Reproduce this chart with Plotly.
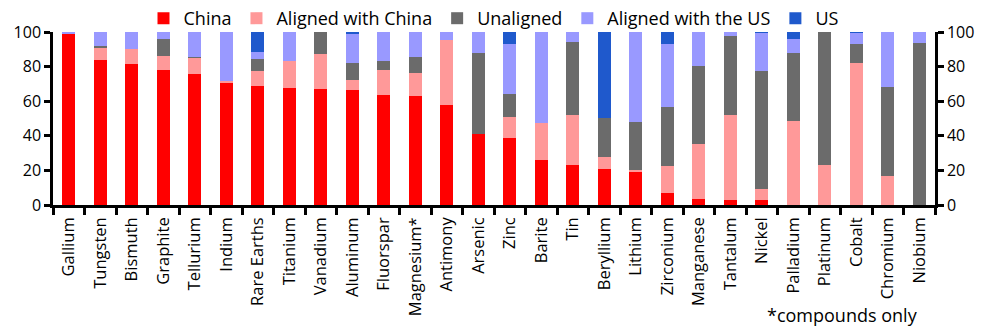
import plotly.graph_objects as go

minerals = ["Gallium", "Tungsten", "Bismuth", "Graphite", "Tellurium", "Indium",
            "Rare Earths", "Titanium", "Vanadium", "Aluminum", "Fluorspar",
            "Magnesium*", "Antimony", "Arsenic", "Zinc", "Barite", "Tin",
            "Beryllium", "Lithium", "Zirconium", "Manganese", "Tantalum",
            "Nickel", "Palladium", "Platinum", "Cobalt", "Chromium", "Niobium"]

china = [99, 84, 81.5, 78, 76, 70.5, 68.8, 67.6, 67, 66.5, 63.6, 63, 57.8, 41.2,
         39, 26, 23, 21, 19.3, 7, 3.5, 3, 3, 0, 0, 0, 0, 0]
aligned_china = [0, 7, 8.7, 8, 9, 1.2, 8.7, 15.6, 20.3, 5.8, 14.4, 13.3, 37.6, 0,
                 11.6, 21.4, 29, 7, 0.9, 15.5, 31.8, 49, 6.3, 48.6, 23, 82, 17, 0]
unaligned = [0, 1, 0, 10, 0.5, 0, 6.9, 0, 12.7, 9.8, 5.2, 9.2, 0, 46.7,
             13.7, 0, 42, 22.5, 27.8, 34.3, 45, 45.7, 68.3, 39.3, 77, 11, 51.4, 93.6]
aligned_us = [1, 8, 9.8, 4, 14.5, 28.3, 4, 16.8, 0, 16.9, 16.8, 14.5, 4.6, 12.1,
              29, 52.6, 6, 0, 52, 36.4, 19.7, 2.3, 21.9, 8.1, 0, 6.5, 31.6, 6.4]
us = [0, 0, 0, 0, 0, 0, 11.6, 0, 0, 1, 0, 0, 0, 0,
      6.8, 0, 0, 49.5, 0, 6.8, 0, 0, 0.5, 4, 0, 0.5, 0, 0]

series = [
    ("China", china, "#ff0000"),
    ("Aligned with China", aligned_china, "#ff9999"),
    ("Unaligned", unaligned, "#6b6b6b"),
    ("Aligned with the US", aligned_us, "#9999ff"),
    ("US", us, "#1f59cc"),
]

font_family = "'Open Sans', 'Noto Sans', sans-serif"

fig = go.Figure()
for name, vals, color in series:
    fig.add_trace(go.Bar(x=minerals, y=vals, name=name, marker_color=color,
                         marker_line_width=0, width=0.4))

# invisible trace to carry the right-hand axis
fig.add_trace(go.Scatter(x=minerals, y=[None] * len(minerals), yaxis="y2",
                         showlegend=False, hoverinfo="skip"))

axis_common = dict(range=[0, 100], dtick=20, showgrid=False, zeroline=False,
                   showline=True, linecolor="black", linewidth=2.5,
                   ticks="outside", ticklen=6, tickwidth=2.5, tickcolor="black",
                   tickfont=dict(size=16, color="black", family=font_family))

fig.update_layout(
    barmode="stack",
    width=987, height=332,
    margin=dict(l=53, r=52, t=32, b=127, autoexpand=False),
    paper_bgcolor="white", plot_bgcolor="white",
    font=dict(family=font_family, color="black"),
    xaxis=dict(showline=True, linecolor="black", linewidth=2.5,
               ticks="outside", ticklen=7, tickwidth=2.5, tickcolor="black",
               tickson="boundaries", tickangle=-90, automargin=False,
               ticklabelstandoff=3,
               tickfont=dict(size=16.5, color="black", family=font_family)),
    yaxis=dict(automargin=False, **axis_common),
    yaxis2=dict(overlaying="y", side="right", automargin=False, **axis_common),
    legend=dict(orientation="h", x=0.5, xanchor="center",
                yref="container", y=1.0, yanchor="top",
                font=dict(size=18, family=font_family), traceorder="normal",
                itemwidth=30, bgcolor="rgba(0,0,0,0)"),
    showlegend=True,
)

fig.add_annotation(text="*compounds only", xref="x domain", yref="y domain",
                   x=(842 - 53) / (935 - 53), y=-(315 - 205) / 173,
                   xanchor="center", yanchor="middle", showarrow=False,
                   font=dict(size=18, family=font_family))

fig.write_html("out.html")
